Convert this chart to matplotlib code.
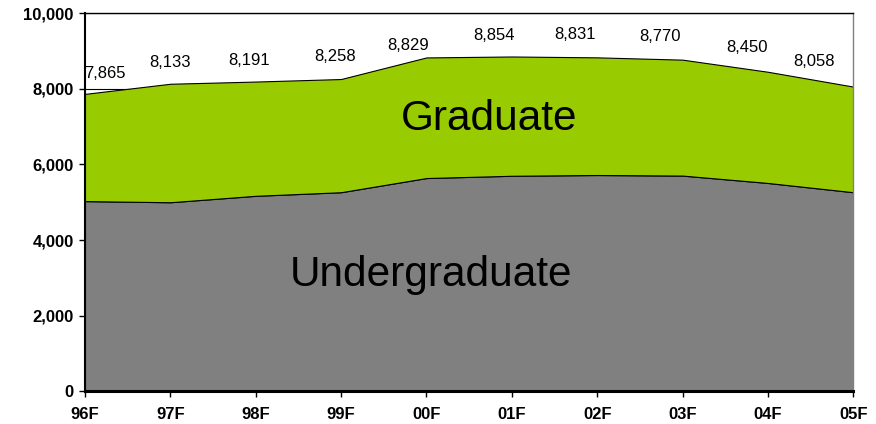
import matplotlib
matplotlib.use('Agg')
import matplotlib.pyplot as plt
from matplotlib.ticker import FuncFormatter

# fall enrollment by term
terms = ['96F', '97F', '98F', '99F', '00F', '01F', '02F', '03F', '04F', '05F']
undergrad = [5030, 5000, 5170, 5265, 5640, 5700, 5720, 5705, 5510, 5265]
totals = [7865, 8133, 8191, 8258, 8829, 8854, 8831, 8770, 8450, 8058]
graduate = [t - u for t, u in zip(totals, undergrad)]

GREY = '#808080'
GREEN = '#99CC00'
FONT = ['Liberation Sans', 'DejaVu Sans']

# label nudges (points), mimic Excel's placement
label_dx = [14, 0, -5, -4, -13, -13, -16, -16, -15, -28]
label_dy = [9, 10, 9.5, 10.5, 3.5, 10, 11, 11, 12, 13]


def _build_plot(fig, ax):
    x = list(range(len(terms)))
    ax.stackplot(x, undergrad, graduate, colors=[GREY, GREEN],
                 edgecolor='black', linewidth=0.8, zorder=2)

    for i, t in enumerate(totals):
        ax.annotate('{:,}'.format(t), (i, t), xytext=(label_dx[i], label_dy[i]),
                    textcoords='offset points', ha='center', va='bottom',
                    fontsize=12, family=FONT, zorder=4)

    ax.text(4.74, 7200, 'Graduate', fontsize=30.5, family=FONT,
            ha='center', va='center', zorder=4)
    ax.text(4.05, 3080, 'Undergraduate', fontsize=30.5, family=FONT,
            ha='center', va='center', zorder=4)

    ax.set_xlim(0, len(terms) - 1)
    ax.set_ylim(0, 10000)
    ax.set_xticks(x)
    ax.set_xticklabels(terms)
    ax.set_yticks(range(0, 10001, 2000))
    ax.yaxis.set_major_formatter(FuncFormatter(lambda v, p: '{:,.0f}'.format(v)))
    for lab in ax.get_xticklabels() + ax.get_yticklabels():
        lab.set_fontweight('bold')
        lab.set_fontsize(12)
        lab.set_family(FONT)

    ax.grid(axis='y', color='black', linewidth=0.8, zorder=1)
    ax.set_axisbelow(True)
    ax.tick_params(direction='out', length=4, width=1, pad=4)
    ax.tick_params(axis='x', pad=7)
    ax.spines['left'].set_linewidth(1.5)
    ax.spines['bottom'].set_linewidth(2.2)
    ax.spines['top'].set_linewidth(1.0)
    ax.spines['right'].set_color('#808080')
    ax.spines['right'].set_linewidth(1.0)
    for s in ax.spines.values():
        s.set_zorder(5)


fig = plt.figure(figsize=(8.76, 4.24), dpi=100)
ax = fig.add_axes([0.097, 0.077, 0.877, 0.892])
_build_plot(fig, ax)
plt.savefig('out.png', dpi=100)
